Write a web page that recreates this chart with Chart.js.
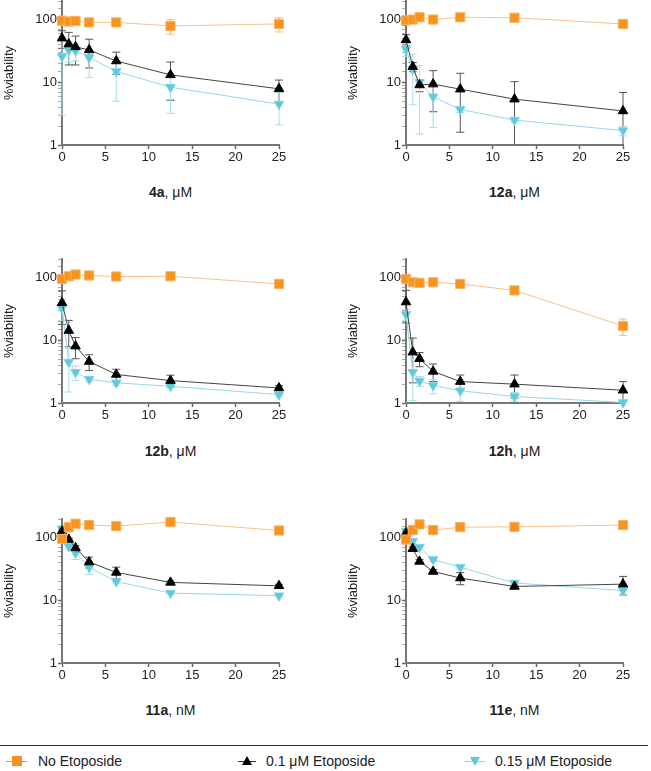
<!DOCTYPE html>
<html>
<head>
<meta charset="utf-8">
<script src="https://cdn.jsdelivr.net/npm/chart.js@4.4.1/dist/chart.umd.min.js"></script>
<style>
body { margin: 0; width: 651px; height: 771px; position: relative; overflow: hidden; background: #fff;
       font-family: "Liberation Sans", Arial, sans-serif; color: #222; }
canvas { position: absolute; }
.xt { position: absolute; width: 217px; text-align: center; font-size: 14px; line-height: 16px; }
.rule { position: absolute; left: 0; top: 745px; width: 648px; border-top: 1.5px solid #333; }
.lg { position: absolute; top: 753px; font-size: 14px; line-height: 16px; }
.seg { position: absolute; height: 0; top: 761px; }
.mk { position: absolute; }
</style>
</head>
<body>
<canvas id="c0" width="300" height="178" style="left:0;top:-9px"></canvas>
<canvas id="c1" width="300" height="178" style="left:344px;top:-9px"></canvas>
<canvas id="c2" width="300" height="178" style="left:0;top:249px"></canvas>
<canvas id="c3" width="300" height="178" style="left:344px;top:249px"></canvas>
<canvas id="c4" width="300" height="178" style="left:0;top:509px"></canvas>
<canvas id="c5" width="300" height="178" style="left:344px;top:509px"></canvas>
<div id="titles"></div>

<div class="rule"></div>
<div class="seg" style="left:6px;width:21px;border-top:1px solid #F7931E"></div>
<div class="mk" style="left:12px;top:756px;width:10px;height:10px;background:#F7931E"></div>
<div class="lg" style="left:38px">No Etoposide</div>
<div class="seg" style="left:238px;width:18px;border-top:1px solid #333"></div>
<div class="mk" style="left:242px;top:756px;width:0;height:0;border-left:5px solid transparent;border-right:5px solid transparent;border-bottom:9px solid #000"></div>
<div class="lg" style="left:266px">0.1 μM Etoposide</div>
<div class="seg" style="left:465px;width:20px;border-top:1px solid #8FD6E4"></div>
<div class="mk" style="left:470px;top:757px;width:0;height:0;border-left:5px solid transparent;border-right:5px solid transparent;border-top:9px solid #5EC8DC"></div>
<div class="lg" style="left:495px">0.15 μM Etoposide</div>

<script>
// doses used in every panel
const doses = [0, 0.78, 1.56, 3.125, 6.25, 12.5, 25];
const xTicks = [0, 5, 10, 15, 20, 25];
const yTickLabels = [1, 10, 100];
const seriesNames = ['No Etoposide', '0.1 μM Etoposide', '0.15 μM Etoposide'];
const compounds = ['4a', '12a', '12b', '12h', '11a', '11e'];
const units = ['μM', 'μM', 'μM', 'μM', 'nM', 'nM'];

// 4a
const v4a_none = [97, 94, 96, 91, 91, 80, 86];
const v4a_e01 = [51, 41, 37, 33, 22, 13.2, 7.9];
const v4a_e015 = [26, 33, 32, 25, 15, 8.4, 4.5];
const sd4a_none = [5, 5, 5, 5, 5, 21, 22];
const sd4a_e01 = [16, 22, 18, 16, 8.5, 8, 3];
const sd4a_e015 = [23, 12, 10, 13, 10, 5.2, 2.4];
// 12a
const v12a_none = [98, 101, 110, 101, 110, 108, 86];
const v12a_e01 = [48, 17.8, 9.1, 9.4, 7.8, 5.4, 3.5];
const v12a_e015 = [34, 16.4, 10, 5.9, 3.7, 2.5, 1.7];
const sd12a_none = [3, 3, 5, 4, 3, 3, 3];
const sd12a_e01 = [10, 3, 2, 6, 6.2, 4.9, 3.4];
const sd12a_e015 = [8, 12, 8.5, 4, 0.4, 0.2, 0.3];
// 12b
const v12b_none = [96, 106, 113, 109, 105, 106, 80];
const v12b_e01 = [40, 14.4, 8.1, 4.6, 2.86, 2.28, 1.74];
const v12b_e015 = [33, 4.5, 3.1, 2.4, 2.1, 1.85, 1.36];
const sd12b_none = [4, 4, 4, 4, 4, 4, 4];
const sd12b_e01 = [22, 6.5, 3, 1.3, 0.6, 0.5, 0.15];
const sd12b_e015 = [12, 3, 0.8, 0.2, 0.2, 0.1, 0.1];
// 12h
const v12h_none = [96, 85, 83, 85, 80, 63, 17];
const v12h_e01 = [41, 6.5, 5.1, 3.2, 2.2, 2.0, 1.6];
const v12h_e015 = [26, 3.1, 2.25, 1.9, 1.57, 1.27, 1.02];
const sd12h_none = [3, 3, 3, 3, 8, 5, 5];
const sd12h_e01 = [22, 4.4, 1.3, 1, 0.6, 0.8, 0.6];
const sd12h_e015 = [5, 2, 0.4, 0.5, 0.5, 0.2, 0.05];
// 11a
const v11a_none = [96, 148, 168, 160, 154, 179, 131];
const v11a_e01 = [128, 94, 69, 41, 28, 19.4, 17.1];
const v11a_e015 = [140, 73, 57, 34, 20, 13.1, 11.9];
const sd11a_none = [5, 8, 8, 6, 6, 6, 6];
const sd11a_e01 = [10, 5, 6, 8, 6, 1, 1];
const sd11a_e015 = [8, 6, 12, 8, 1, 0.5, 0.5];
// 11e
const v11e_none = [94, 133, 164, 133, 148, 150, 160];
const v11e_e01 = [120, 67, 42, 29, 22.8, 16.7, 18.2];
const v11e_e015 = [128, 88, 71, 45, 34, 19, 14.4];
const sd11e_none = [5, 5, 8, 5, 5, 5, 5];
const sd11e_e01 = [8, 5, 3, 2, 5, 1, 6];
const sd11e_e015 = [5, 3, 3, 3, 2, 1, 2.5];

const panelVals = [
    [v4a_none, v4a_e01, v4a_e015], [v12a_none, v12a_e01, v12a_e015],
    [v12b_none, v12b_e01, v12b_e015], [v12h_none, v12h_e01, v12h_e015],
    [v11a_none, v11a_e01, v11a_e015], [v11e_none, v11e_e01, v11e_e015]
];
const panelSds = [
    [sd4a_none, sd4a_e01, sd4a_e015], [sd12a_none, sd12a_e01, sd12a_e015],
    [sd12b_none, sd12b_e01, sd12b_e015], [sd12h_none, sd12h_e01, sd12h_e015],
    [sd11a_none, sd11a_e01, sd11a_e015], [sd11e_none, sd11e_e01, sd11e_e015]
];

// styling per series
const markerColors = ['#F7931E', '#000000', '#5EC8DC'];
const markerBorders = ['#F9B360', '#000000', '#7FD3E3'];
const lineColors = ['#F9C088', '#444444', '#95D8E6'];
const errColors = ['#F9BD7C', '#555555', '#A6DEEA'];
const pointStyles = ['rect', 'triangle', 'triangle'];
const rotations = [0, 0, 180];
const radii = [6.5, 5.5, 5.5];

// draws mean +/- SD bars behind the markers
const errorBars = {
    id: 'errorBars',
    beforeDatasetsDraw(chart) {
        const {ctx, scales: {x, y}} = chart;
        chart.data.datasets.forEach(ds => {
            ctx.save();
            ctx.strokeStyle = ds.errColor;
            ctx.lineWidth = 1;
            ds.data.forEach((p, i) => {
                const s = ds.sd[i];
                const px = x.getPixelForValue(p.x);
                const top = y.getPixelForValue(p.y + s);
                const low = p.y - s;
                const bot = y.getPixelForValue(Math.max(low, y.min));
                ctx.beginPath();
                ctx.moveTo(px, top); ctx.lineTo(px, bot);
                ctx.moveTo(px - 4, top); ctx.lineTo(px + 4, top);
                if (low > y.min) { ctx.moveTo(px - 4, bot); ctx.lineTo(px + 4, bot); }
                ctx.stroke();
            });
            ctx.restore();
        });
    }
};

const makePanel = (n) => {
    let ctx = document.getElementById('c' + n).getContext('2d');
    new Chart(ctx, {
        type: 'line',
        data: {
            datasets: panelVals[n].map((vals, k) => ({
                label: seriesNames[k],
                data: doses.map((d, i) => ({x: d, y: vals[i]})),
                sd: panelSds[n][k],
                errColor: errColors[k],
                borderColor: lineColors[k],
                borderWidth: 1,
                tension: 0,
                pointStyle: pointStyles[k],
                rotation: rotations[k],
                pointRadius: radii[k],
                pointBackgroundColor: markerColors[k],
                pointBorderColor: markerBorders[k],
                pointBorderWidth: 1,
                clip: false
            }))
        },
        options: {
            responsive: false,
            animation: false,
            layout: {padding: {top: 10, right: 21, left: 0, bottom: 0}},
            plugins: {legend: {display: false}, tooltip: {enabled: false}},
            scales: {
                x: {
                    type: 'linear', min: 0, max: 25,
                    afterBuildTicks: (s) => { s.ticks = xTicks.map(v => ({value: v})); },
                    afterFit: (s) => { s.height = 24; },
                    grid: {drawOnChartArea: false, tickLength: 4, tickColor: '#666', tickWidth: 1.5},
                    border: {color: '#777', width: 2},
                    ticks: {font: {size: 13, family: 'Liberation Sans'}, color: '#222', padding: 1, maxRotation: 0}
                },
                y: {
                    type: 'logarithmic', min: 1, max: 200,
                    afterFit: (s) => { s.width = 62; },
                    grid: {
                        drawOnChartArea: false, tickLength: 4,
                        tickColor: (c) => (c.tick && yTickLabels.includes(c.tick.value)) ? '#666' : '#aaa',
                        tickWidth: (c) => (c.tick && yTickLabels.includes(c.tick.value)) ? 1.5 : 1
                    },
                    border: {color: '#777', width: 2},
                    ticks: {
                        autoSkip: false,
                        callback: (v) => yTickLabels.includes(v) ? String(v) : '',
                        font: {size: 13, family: 'Liberation Sans'}, color: '#222', padding: 1
                    },
                    title: {display: true, text: '%viability', font: {size: 13, family: 'Liberation Sans'}, color: '#222', padding: {top: 2, bottom: 0}}
                }
            }
        },
        plugins: [errorBars]
    });
};

// x-axis titles (bold compound name + unit)
const titleTops = [184, 443, 702];
for (let n = 0; n < compounds.length; n++) {
    let left = (n % 2 === 0 ? 0 : 344) + 62;
    let top = titleTops[Math.floor(n / 2)];
    document.getElementById('titles').insertAdjacentHTML('beforeend',
        `<div class="xt" style="left:${left}px;top:${top}px"><b>${compounds[n]}</b>, ${units[n]}</div>`);
    makePanel(n);
}
</script>
</body>
</html>
